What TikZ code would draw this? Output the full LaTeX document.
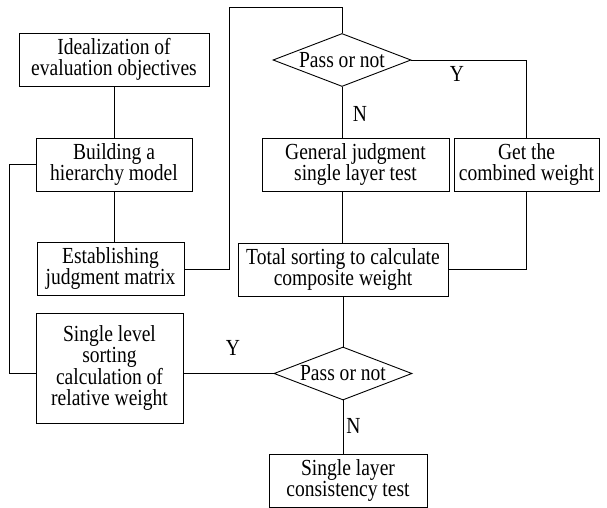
\documentclass[tikz,border=0pt]{standalone}
\usepackage{fontspec}
\setmainfont{Liberation Serif}[FakeStretch=0.85]
\usetikzlibrary{shapes.geometric}

\begin{document}
\begin{tikzpicture}[x=1pt,y=-1pt,line width=0.9pt,
    font=\fontsize{23}{21}\selectfont,
    box/.style={draw,align=center,inner sep=0pt,minimum height=53pt},
    decision/.style={draw,diamond,aspect=2.6,inner sep=0pt,minimum width=138pt,minimum height=53pt},
    lbl/.style={inner sep=0pt}]
    \useasboundingbox (0,0) rectangle (607,508);
    % left column
    \node[box,minimum width=190pt] (idea) at (114,59.5) {Idealization of\\evaluation objectives};
    \node[box,minimum width=156pt] (build) at (114,164.5) {Building a\\hierarchy model};
    \node[box,minimum width=147pt] (matrix) at (110.5,269) {Establishing\\judgment matrix};
    \node[box,minimum width=147pt,minimum height=110pt] (single) at (109.5,368) {Single level\\sorting\\calculation of\\relative weight};
    % right part
    \node[decision] (pass1) at (342,60) {Pass or not};
    \node[box,minimum width=187pt] (general) at (355.5,164.5) {General judgment\\single layer test};
    \node[box,minimum width=145pt] (combined) at (526.5,164.5) {Get the\\combined weight};
    \node[box,minimum width=210pt] (total) at (343,269.5) {Total sorting to calculate\\composite weight};
    \node[decision] (pass2) at (343,373.5) {Pass or not};
    \node[box,minimum width=158pt] (consist) at (348,480.5) {Single layer\\consistency test};
    \coordinate (lx) at (9,0);
    \coordinate (loopx) at (229,0);
    \coordinate (topy) at (0,7);

    \draw (idea) -- (build);
    \draw (build.south) -- (build.south |- matrix.north);
    \draw (matrix.east) -- (matrix.east -| loopx) -- (loopx |- topy) -- (pass1.north |- topy) -- (pass1.north);
    \draw (pass1.east) -| (combined.north);
    \draw (pass1.south) -- (pass1.south |- general.north);
    \draw (pass1.south |- general.south) -- (pass1.south |- total.north);
    \draw (combined.south) |- (total.east);
    \draw (total.south) -- (pass2.north);
    \draw (pass2.west) -- (pass2.west -| single.east);
    \draw (pass2.south) -- (pass2.south |- consist.north);
    \draw (build.west) -- (build.west -| lx) |- (pass2.west -| single.west);

    \node[lbl] (y1) at (457,74) {Y};
    \node[lbl] (n1) at (360,114) {N};
    \node[lbl] (y2) at (233,348) {Y};
    \node[lbl] (n2) at (353.5,426) {N};
\end{tikzpicture}
\end{document}
